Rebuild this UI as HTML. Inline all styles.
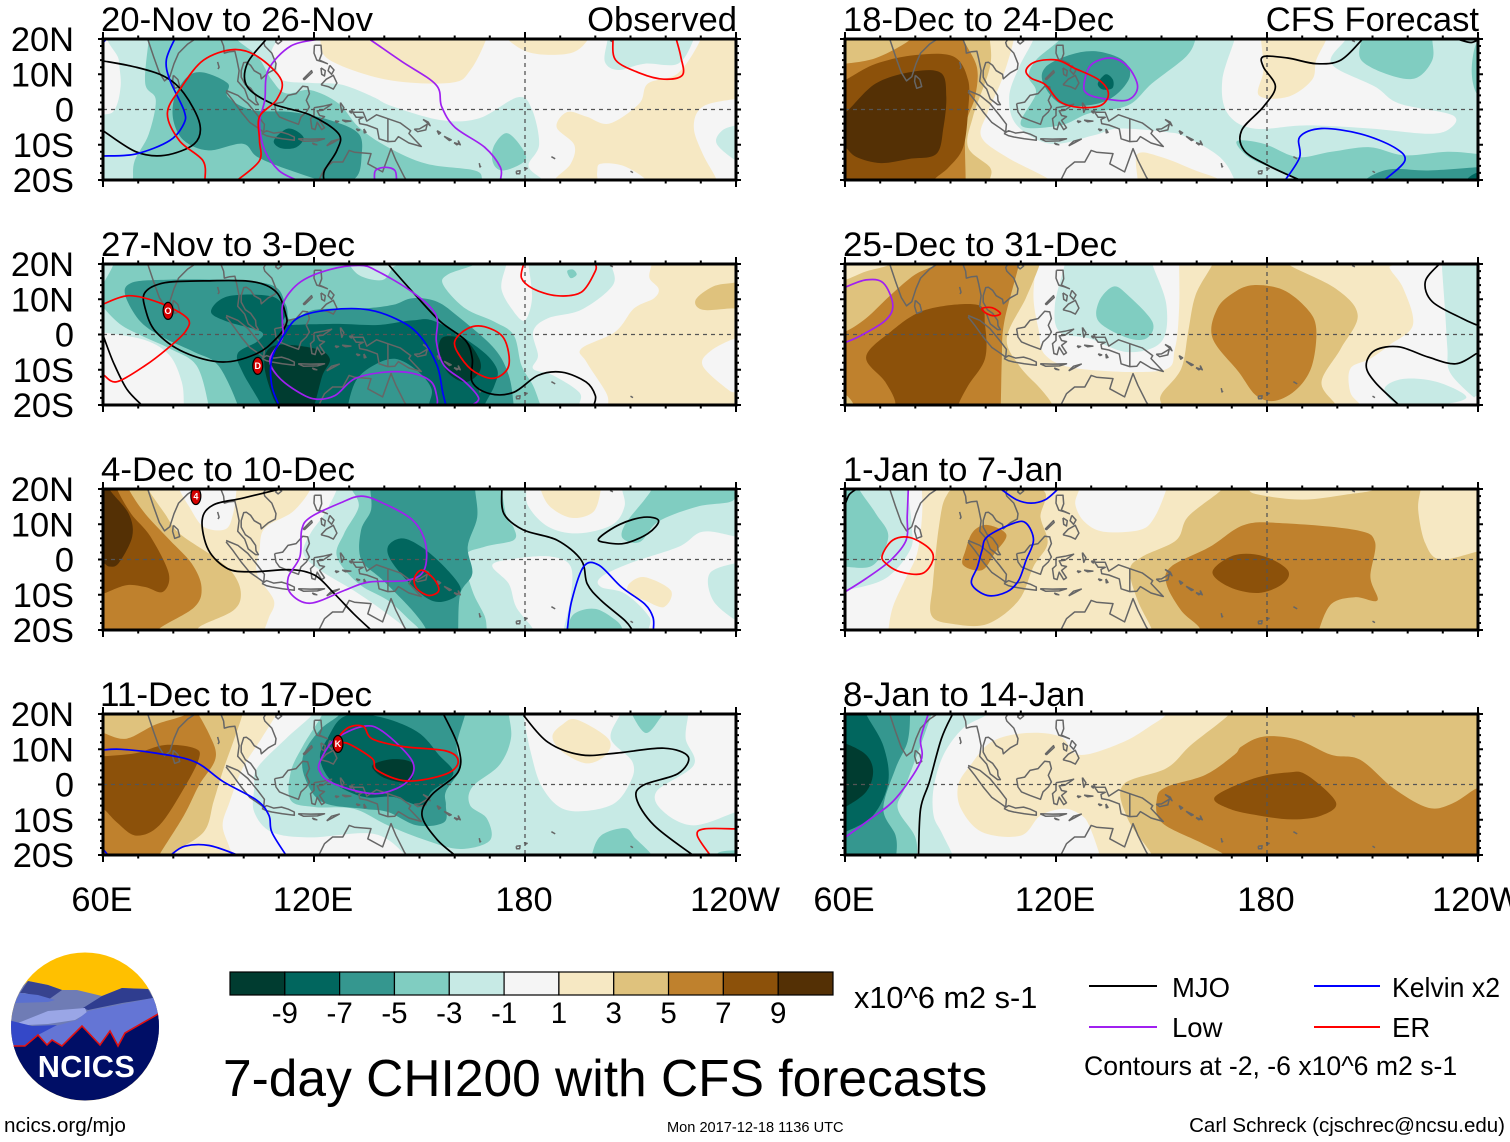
<!DOCTYPE html>
<html lang="en">
<head>
<meta charset="utf-8">
<title>7-day CHI200 with CFS forecasts</title>
<style>
html,body{margin:0;padding:0;background:#fff;}
svg{display:block;font-family:"Liberation Sans",Arial,sans-serif;}
</style>
</head>
<body>
<svg id="chart" xmlns="http://www.w3.org/2000/svg" width="1510" height="1142" viewBox="0 0 1510 1142">
<rect x="0" y="0" width="1510" height="1142" fill="#fff"/>
<g id="panels"></g>

<g fill="#000" font-size="34.6">
<text x="101" y="31" textLength="272" lengthAdjust="spacingAndGlyphs">20-Nov to 26-Nov</text>
<text x="737" y="31" text-anchor="end">Observed</text>
<text x="101" y="256" textLength="254" lengthAdjust="spacingAndGlyphs">27-Nov to 3-Dec</text>
<text x="101" y="481" textLength="254" lengthAdjust="spacingAndGlyphs">4-Dec to 10-Dec</text>
<text x="100" y="706" textLength="272" lengthAdjust="spacingAndGlyphs">11-Dec to 17-Dec</text>
<text x="843" y="31" textLength="271" lengthAdjust="spacingAndGlyphs">18-Dec to 24-Dec</text>
<text x="1479" y="31" text-anchor="end">CFS Forecast</text>
<text x="843" y="256" textLength="274" lengthAdjust="spacingAndGlyphs">25-Dec to 31-Dec</text>
<text x="843" y="481" textLength="220" lengthAdjust="spacingAndGlyphs">1-Jan to 7-Jan</text>
<text x="843" y="706" textLength="242" lengthAdjust="spacingAndGlyphs">8-Jan to 14-Jan</text>
</g>

<g id="axis-labels"></g>
<g id="colorbar"></g>

<text x="854" y="1008" font-size="30.7">x10^6 m2 s-1</text>
<text x="223" y="1096" font-size="51.5">7-day CHI200 with CFS forecasts</text>

<g font-size="27.5">
<line x1="1089" x2="1157" y1="986" y2="986" stroke="#000" stroke-width="2"/>
<text x="1172" y="997">MJO</text>
<line x1="1089" x2="1157" y1="1027" y2="1027" stroke="#a020f0" stroke-width="2"/>
<text x="1172" y="1037">Low</text>
<line x1="1314" x2="1380" y1="986" y2="986" stroke="#0000ff" stroke-width="2"/>
<text x="1392" y="997" textLength="108" lengthAdjust="spacingAndGlyphs">Kelvin x2</text>
<line x1="1314" x2="1380" y1="1027" y2="1027" stroke="#ff0000" stroke-width="2"/>
<text x="1392" y="1037">ER</text>
<text x="1084" y="1075" font-size="26.6">Contours at -2, -6 x10^6 m2 s-1</text>
</g>

<text x="4" y="1132" font-size="20.7">ncics.org/mjo</text>
<text x="667" y="1132" font-size="14.6">Mon 2017-12-18 1136 UTC</text>
<text x="1505" y="1132" font-size="20.5" text-anchor="end">Carl Schreck (cjschrec@ncsu.edu)</text>

<g>
<defs><clipPath id="logo-clip"><circle cx="85" cy="1026.5" r="74"/></clipPath></defs>
<g clip-path="url(#logo-clip)">
<rect x="8" y="950" width="155" height="155" fill="#ffc000"/>
<path d="M8 1000 L28 981 L48 985 L62 990 L77 990 L102 996 L122 988 L148 989 L165 1000 L165 1060 L8 1060Z" fill="#6f7cb5"/>
<path d="M28 981 L48 985 L62 990 L48 1000 L25 993 L20 993Z" fill="#37438f"/>
<path d="M20 993 L38 995 L55 1000 L48 1002 L15 1003Z" fill="#5a70d0"/>
<path d="M83 1008 L102 996 L122 988 L148 989 L153 998 L122 1003 L88 1010Z" fill="#2f3d8f"/>
<path d="M18 1023 L48 1011 L85 1008 L87 1013 L75 1020 L48 1024 L28 1025Z" fill="#9aa6e6"/>
<path d="M15 1047 L38 1031 L77 1020 L88 1011 L153 998 L165 1010 L165 1060 L15 1060Z" fill="#6475d5"/>
<path d="M8 1020 L32 1026 L57 1025 L38 1035 L25 1045 L8 1048Z" fill="#3448c8"/>
<path d="M8 1046 L25 1046 L38 1035 L47 1045 L52 1040 L62 1046 L82 1026 L100 1045 L110 1031 L118 1046 L125 1033 L160 1013 L165 1010 L165 1105 L8 1105Z" fill="#000e66"/>
<path d="M13 1046 L25 1046 L38 1035 L47 1045 L52 1040 L62 1046 L82 1026 L100 1045 L110 1031 L118 1046 L125 1033 L160 1013" fill="none" stroke="#e01010" stroke-width="1.6"/>
</g>
<text x="86.5" y="1077" font-size="30.7" font-weight="bold" fill="#fff" text-anchor="middle" letter-spacing="0.4">NCICS</text>
</g>
</svg>

<script>
/* ---------- categories and tick labels ---------- */
const lonTicks = [60, 120, 180, 240];
const lonTickLabels = ['60E', '120E', '180', '120W'];
const latTicks = [20, 10, 0, -10, -20];
const latTickLabels = ['20N', '10N', '0', '10S', '20S'];
const colorLevels = [-9, -7, -5, -3, -1, 1, 3, 5, 7, 9];
const colorLevelLabels = ['-9', '-7', '-5', '-3', '-1', '1', '3', '5', '7', '9'];

/* coastlines, lon,lat pairs */
const coastlines = [
[72.7,20,74.4,15,76,10.5,77.5,8.1,79,9.3,80.2,13,81.5,16,84,18.5,87,20.5],
[80,9.7,81.3,8.5,81.8,6.5,80.4,6,79.8,8,80,9.7],
[93.5,20,94.3,18,94.5,16,96,16.4,97.5,16.5,98,14.5,98.7,11,98.3,8,100.3,5.8,101.3,3,103.4,1.4,104.2,1.4,103.5,2.5,103.4,4,102,6,100.5,7,99.3,9.2,99.3,11,100,13.3,100.8,13.4,102,12.5,103,11,104.8,10,105,8.7,107,10.4,109,11.5,109.2,13,108,16,106,18,105.7,19,107,21],
[95,5.4,98.4,4,101.2,1.7,104,-1.7,105.9,-4.2,105.7,-6.4,104,-5.2,101.7,-3.6,99.3,-0.7,96.9,2.6,95,5],
[105.2,-6.8,106.5,-6,108.5,-6.7,110.8,-6.4,112.7,-7,114.4,-7.8,114.4,-8.7,111,-8.3,108,-7.8,106.4,-7.4,105.2,-6.8],
[108.8,1.65,111.1,2.1,112.6,4,114.9,4.5,116.8,6.6,118.2,6.4,118.7,4.5,117.8,2.6,118.7,0.7,117.8,-0.7,116.3,-2.1,115.6,-4.2,112.6,-3.1,110.2,-2.1,109.2,-0.7,108.8,1.65],
[120,0.5,122.5,0.9,125,1.5,122.5,-0.2,120.9,-0.4,121.6,-1.7,123,-2,121.6,-3.1,123,-5.2,122.2,-5.7,120.9,-3.6,120.3,-5.7,119.4,-5.4,119,-2.6,120,-1.7,120,0.5],
[120.1,18.2,122,18.2,122.2,15.8,121.5,14,123.8,13,122.5,13.5,120.8,14,120,16,120.1,18.2],
[122,7,123.5,8.6,125.5,9.7,126.5,7.5,125.5,5.8,124,6.5,122,7],
[124.5,12.5,125.7,11.2,125,10,124,11,124.5,12.5],
[122,11.8,123.2,11,123,9.5,122.2,10,122,11.8],
[117.2,8.4,119.5,10.5,119.3,11,117,8.7,117.2,8.4],
[131,-0.8,134,-0.8,135,-3.3,137.8,-1.5,141,-2.6,144.5,-3.8,147.5,-6,147,-6.8,150.5,-10.5,147,-9.5,144,-7.7,143,-9,141,-9.1,138.5,-8.3,138,-5.5,135,-4.4,133,-4,132.8,-2.8,134,-2.2,132,-2.2,131,-0.8],
[141,-2.6,141,-9.1],
[120,-21,121.6,-19.6,123,-16.8,125.3,-14.9,128.2,-14.9,130,-11.6,131.5,-12.1,136.2,-12.5,135.3,-15.4,139.5,-17.7,141.9,-11.1,143.3,-14.4,145.7,-19.2,147,-21],
[148.5,-5.6,150,-5.5,152.2,-4.2,151.8,-5.8,149.5,-6.3,148.5,-5.6],
[151,-2.8,152.5,-3.6,153,-4.6,152,-3.6,151,-2.8],
[155,-6,156,-6.6,155.5,-7,155,-6],
[157,-7.6,159,-8.6,158.5,-8.8,157,-7.6],
[159.8,-9.4,161,-9.8,160.6,-10,159.8,-9.4],
[161,-8.8,161.6,-10,161.2,-9.8,161,-8.8],
[123.6,-10.3,125,-9,127.2,-8.4,125,-9.6,123.6,-10.3],
[115.5,-8.3,119,-8.4,123,-8.3,121,-8.9,117,-9,115.5,-8.3],
[119.5,-9.5,120.8,-10,120,-9.9,119.5,-9.5],
[127.5,2,128.5,0.5,127.9,-0.8,127.6,1,127.5,2],
[128,-3,130.5,-3.3,129,-3.5,128,-3],
[126,-3.2,127,-3.4,126.4,-3.7,126,-3.2],
[132,-5.5,133,-5.8,132.5,-6,132,-5.5],
[134.2,-5.5,134.8,-6.5,134.3,-6.6,134.2,-5.5],
[130,-0.5,131,-0.4,130.6,-1,130,-0.5],
[92.6,13.5,93,12,92.7,11.5],
[177.5,-17.5,178.6,-17.4,178.5,-18.2,177.6,-18.2,177.5,-17.5],
[179.7,-16.5,180.6,-16.7,180,-17],
[167,-15.2,167.2,-16.3,167.5,-16],
[187.5,-13.4,188.6,-14],
[210,-17.5,210.7,-17.9],
[204.2,19.6,205,19.2],
[109,19.3,110,20,110.8,19.4,109.8,18.6,109,19.3]
];

/* ---------- filled bands: [band index, lon,lat ring], painted in order ---------- */
const fieldObserved1 = [
[4,[57,-4,63,-0.5,65,6.5,64.5,14,64,23,106,23,108,16,110,10,112,8,120,7.5,128,7,137,3.5,142,1,156,-3,167,-2.5,178,3.5,182,0,184,-10,181,-16,185,-20,186,-23,57,-23]],
[3,[73,20,72,7.4,75,2.7,73,-7,69,-14.5,68.5,-20,68,-23,170,-23,168,-20,165.7,-17.3,152,-15.4,141,-10.7,132.7,-5,127,1.7,119,5.5,112,4.6,108,8.4,104,15,98,20,98,23,73,23]],
[3,[174.7,-6.7,179,-10.7,180,-14.5,174,-17.3,171,-15.4,171,-10.7]],
[4,[203.5,23,203.5,20,202.7,13.6,206.5,11.2,214,13,223.5,13,228,20,228,23]],
[6,[121.7,23,121.7,20,124.5,14,141,8.4,159,7.6,164.5,11.2,169,20,169,23]],
[6,[175,23,175,20,182,16,193,16,198,20,198,23]],
[6,[243,23,229,23,230,20,223.5,10.3,215,7.4,212.5,1.7,204,-4,197.5,-2,192,-0.7,189,-5,194,-10,193,-15.4,188.5,-20,190,-23,200,-23,200.5,-18,201.5,-15.4,208,-16,214.5,-20,215,-23,234,-23,234.5,-20,230.5,-12.5,228,-5,230.5,0.8,240,3,243,3]],
[4,[240,-4.5,236,-6,234.5,-9.7,240,-14.5,243,-15,243,-4]],
[2,[88.6,10.5,95.5,7.4,95.5,3.6,102.4,-0.2,113.4,-0.7,124.5,-3,132.7,-6.9,133.5,-13.5,132,-19.2,126,-21,113.4,-17.3,104,-13.5,99.7,-9.7,90,-11.6,83,-8.8,80,-3,80.4,3.6,84,9.3]],
[1,[112.7,-5.4,117,-7.8,115,-10.7,110.7,-11,108.6,-8.8]]
];
const fieldObserved2 = [
[4,[57,23,204.5,23,204.5,20,205,14,196,7,186.5,4.6,182.3,0.8,183.7,-6,182.3,-9.7,188,-11.6,195.4,-16.4,195.4,-20,195.4,-23,83,-23,83,-20,82.4,-13.5,79,-6,72,-1.6,60,0.6,57,0.8]],
[5,[174.7,23,174.7,20,173.3,13,176.8,6.5,180,4,182,10.3,181,20,181,23]],
[3,[63,20,60.4,15,58,11,64,3.6,70.7,-0.2,79,-4,86.6,-8.8,90,-20,90,-23,186,-23,184.4,-20,182.3,-14.5,179,-8.8,176.8,-0.2,171.3,3.6,163,7.4,156.8,14,158,17,165.8,20,166,23,63,23]],
[4,[130,23,130,20,133.4,16.5,139.6,15.5,142.3,18.9,143.7,20,144,23]],
[3,[192,18,193.7,18.4,194.7,17,193,16]],
[6,[216,23,216,20,215.4,16,218,13,216.7,10.3,211,7.4,205.7,0.8,196,-4,197.5,-7.8,203,-16.4,203.7,-20,204,-23,243,-23,243,23]],
[5,[240,-1,233,-4.5,230.5,-8.8,237.4,-15.4,240,-16.4,243,-16,243,-1]],
[7,[239,14.6,233.4,13.6,228.5,9.8,230.5,7,239,7.4,243,7,243,15]],
[2,[98.3,-20,92.8,-8.8,86,-5,77.6,-1.1,70.7,3.6,66.3,11.2,68,14.6,76.3,15.5,92.8,15.5,108,14,112,8.4,113.4,4,120.3,7,134,7.4,142.4,8.4,148,10.3,155,9.3,161.6,4.6,171.3,-4,175.4,-11.6,176.8,-20,177,-23,98,-23]],
[1,[90.7,6.5,95.5,10.8,108,10.8,112,6.5,111.4,3,119,2.9,127.2,3,138.2,2.7,148,4,154.7,3.6,167,-4,172,-9.7,171.3,-14.5,168.5,-20,168,-23,105,-23,105,-20,99.7,-10.7,98.3,-5.4,103.8,-2,105,0.8,95.5,3.6]],
[2,[129.7,-20,132,-13,136.9,-8.8,143,-6.9,149.3,-10.2,153.4,-15.4,152.7,-20,153,-23,130,-23]],
[0,[109.3,-3,120.3,-4,124.5,-6.9,122.4,-11.6,120.3,-19.2,119,-21,110.7,-21,107.2,-14.5,105.9,-6.9]],
[0,[156.8,-0.7,163,-1.6,167,-6.9,167,-10.7,163,-13.5,158,-10.7,155.5,-5]]
];
const fieldObserved3 = [
[6,[57,23,118,23,119,20,114,13.6,106,8.9,104.5,2.7,103.8,-4,108.6,-11.6,107.2,-16.4,105.9,-20,105,-23,57,-23]],
[5,[81.7,23,81.7,20,84.5,15,88.6,9.3,94.8,8.6,97,13,98,20,98,23]],
[7,[57,23,72,23,72.8,20,77.6,13,81.7,7.4,91.4,0.8,97,-4,99.2,-9.7,97,-14.5,87.3,-19.2,86,-23,57,-23]],
[8,[57,23,67,23,67.3,20,72,13,79,5.5,85.2,-1.1,88,-7.8,86,-13.5,76,-19.6,74,-23,57,-23]],
[9,[57,23,64,23,64,20,68,13,73.5,6.5,78.7,-4,77,-9.2,72,-7.8,66.6,-7.3,60,-9.7,57,-10]],
[10,[57,23,62,23,61.8,20,67.3,13,68.3,6.5,64.5,-1,61.8,-2,60,-1,57,-1]],
[4,[126,23,126.5,20,123,13,119,7.4,117,1.7,121.7,-3,131.3,-8.8,139.6,-14.5,146,-19.6,147,-23,243,-23,243,23]],
[5,[180.3,23,180.3,20,181,15,186.6,9.3,195,7.4,204.7,9.8,208.3,15,207.6,20,207.6,23]],
[5,[170.7,-1.6,177.7,0.3,187.5,0.8,193,-2,193,-10.7,191,-20,191,-23,181,-23,182.4,-20,177.5,-13.5,175.4,-6.9]],
[5,[201.6,-5,210,-1,223.7,3.6,230.5,7.9,240,6.5,243,6,243,-23,217,-23,215.4,-16.4,208.5,-9.7,201.6,-7.8]],
[4,[240,-1,232.5,-4,233.5,-11.6,240,-17.3,243,-18,243,-1]],
[6,[209.6,-6.9,214,-5,221.5,-8.8,219.5,-13.5,214,-11.6,209.6,-9.7]],
[6,[184.4,23,184.4,20,187.1,15,193.3,11.8,199.5,13.6,201.6,20,201.6,23]],
[3,[216,23,216,20,214,17,208.5,10,207.8,6,212.7,5,218,10.8,229,15,238.8,16.5,239.5,20,240,23]],
[3,[192,-23,192,-20,194,-15.4,200,-14,205.9,-17.3,207.8,-20,207.8,-23]],
[3,[130,23,130.7,20,132.7,15,128.6,7.4,126.5,0.8,132.7,-6.9,141,-11.6,147,-17,150,-20,150,-23,170,-23,169.2,-20,168.5,-16,165,-8.8,163,0.8,168.5,3.6,176.8,5.5,176.8,9,174.8,12,173.4,20,173.4,23]],
[2,[136,23,136,20,136.2,14,133.4,8.4,133.4,0,139.6,-5.9,148,-14.5,152,-20,152,-23,161,-23,161,-20,161.6,-9.7,165,-4,163.7,3.6,166.4,12,165.8,20,166,23]],
[1,[145,6,150.5,3.6,157,-2,161.6,-7.8,160,-10.7,154.7,-12,149.3,-8.8,142.4,-1.1,141,3.6]]
];
const fieldObserved4 = [
[6,[57,23,110,23,109.3,20,105,13,99.7,4.6,96,-5,94,-11.6,96,-18,97,-23,57,-23]],
[7,[57,23,100,23,99.7,20,97,12,94,3.6,91.4,-5,88.6,-13.5,79,-20,78,-23,57,-23]],
[8,[57,15,60,14.6,66.6,13,74.9,17,84,20,85,23,90.3,14,92,7.4,87.3,-0.2,83,-8.8,76,-20,75,-23,57,-23]],
[9,[60,8,69.4,8.9,77.6,11.2,86,10.3,87.3,7.4,83,-1.1,76,-11.6,69.4,-14.5,63.9,-10.7,60,-6.9,57,-7,57,8]],
[4,[120,23,119.7,20,112,13,103.8,4.6,103,-1.1,103,-7.8,108,-13.5,119,-15,137,-14,146,-20,147,-23,243,-23,243,23]],
[5,[180,23,179.6,20,181.6,9.3,185,-1,192,-7.3,204.4,-5.9,210,0.8,210.5,6.5,204.4,13,207,20,207,23]],
[5,[226,23,226.4,20,225.7,13,228,5.5,217.4,-2,219.5,-7.8,228,-11.6,240,-7.8,243,-7,243,23]],
[6,[190.6,17,194.7,18.4,203.7,13,203,8.4,197.5,6,190.6,9.3,187.8,13.6]],
[3,[210.4,23,210.4,20,214.4,14.6,218.5,18.9,219,20,219,23]],
[3,[199,-23,199,-20,201.6,-14.5,208.5,-12.4,211.5,-15.4,216,-20,216,-23]],
[3,[234.5,-20,236,-19,240,-18.7,243,-19,243,-23,234,-23]],
[3,[122,23,122.4,20,117,11.2,113.4,3.6,113.4,-4.5,120.3,-6.4,131.3,-6.9,141,-11.6,152,-15.9,161.6,-18.3,170,-15.9,169.2,-9.7,164.4,-5.9,165,-0.7,172.7,5.5,176,13,175.4,20,175.4,23]],
[2,[127,23,127.4,20,121.7,15.5,117,8.4,117.5,1.7,122.4,-5,134,-6.9,141,-7.8,149.3,-11.6,157,-10.7,157.5,-5.9,157.5,-2,161.6,4.6,160.6,11.2,163,20,163,23]],
[1,[128.6,19.3,123.8,13,121.7,7.4,125.2,0.8,134,-3.5,142.4,-3.5,150.5,-6,153.4,-2,159.6,3,155.5,8.4,149.3,15,138.2,19.3]],
[0,[136.9,5.7,142.4,7.2,148,6,147.2,0.8,141,1.5,137.5,3.6]]
];
const fieldForecast5 = [
[4,[113,23,113.6,20,109.5,12,106.7,3.6,108.8,-4.4,118.4,-9.7,130.8,-7.3,137.8,-5.4,151.5,-6.4,157,-7.8,166.6,-13.5,170.8,-20,171,-23,243,-23,243,23]],
[5,[170.8,23,170.8,20,167.3,8.4,168.7,-1,176.2,-5.4,191.3,-4.5,209.3,-5.4,225.8,-6.9,232,-5.4,232.7,-1.6,217.6,1.7,210.7,6.5,198.3,13,202.4,20,202.4,23]],
[6,[143.2,-23,143.2,-20,143.2,-12.6,150,-13.5,159.7,-17.3,166.6,-20,167,-23]],
[6,[178.3,23,178.3,20,179,11.2,177.7,4,186,3.6,192.8,8.4,194,14,196.9,20,196.9,23]],
[6,[57,23,107,23,108,20,104.6,8.4,100.5,-1,98.8,-7.8,106,-13.5,118.3,-20,119,-23,57,-23]],
[7,[57,23,101,23,101.2,20,101.2,12,96.4,-2,95,-10.7,101.2,-16.4,101.2,-20,101,-23,57,-23]],
[8,[57,13,60,13,68.8,14.6,78.5,19.8,79,23,93.6,23,93.6,20,97.5,12,97,3.6,94.3,-5,94.3,-20,94,-23,57,-23]],
[9,[57,8,60,8.4,68.8,13,80.5,15.5,90.9,15,95,8.4,95,-0.2,93.6,-10.7,89.5,-16.4,85.3,-20,85,-23,57,-23]],
[10,[57,-1,60,-1,68.8,7.4,79.8,10.8,87.4,10.3,88.8,3.6,88,-5,86,-12.6,78.5,-14,70.2,-15.2,63.3,-13.5,60,-10.7,57,-10]],
[3,[121.2,23,121.2,20,114.3,14,112.2,9.3,114.3,4.6,110.1,-4.5,121.2,-4.5,129.4,-1.1,140.5,1.2,147.3,7.4,157,15,159.7,20,160,23]],
[2,[117,12,124,15.5,131.4,16.5,139,14,141,9.3,136.3,3.6,129.4,1.2,121.2,1.7,116.4,7.4]],
[1,[131.9,7.4,134.2,10,136.2,8.4,136,6,133.2,5.7]],
[3,[206.8,23,206.8,20,206.8,14,214.8,9.8,222.3,8.9,227,14,227,20,227,23]],
[3,[239.6,18.9,238.2,11,239.6,4.6,243,4,243,19]],
[3,[171.4,-9,179,-9.7,188.6,-13.5,198.3,-12,209.3,-10.7,219,-13,231.3,-12,239.6,-12.6,243,-13,243,-23,187,-23,188.6,-20,183,-17.3,174.8,-13.5]],
[2,[207.9,-20,214.8,-17,225.8,-17.3,239.6,-16.4,243,-16,243,-23,208,-23]],
[1,[236.8,-20,239.6,-18,243,-18,243,-23,237,-23]]
];
const fieldForecast6 = [
[6,[57,23,215,23,214.8,19,218.8,13,221.5,2.7,214.8,-3,209.3,-6.9,203.7,-9.7,203.7,-16.4,206.5,-20,207,-23,57,-23]],
[5,[114.3,23,114.3,20,113.6,10.3,115,1.7,117,-5.9,126.6,-9.7,150,-10.2,153.8,-4,155,7.4,155,20,155,23]],
[4,[122.5,23,122.5,20,119.7,8.4,121,0.8,129.4,-1.1,140.4,-5,150,-2,151.4,8.4,147.4,20,147.4,23]],
[3,[136.3,13.6,140.4,11.2,147.4,3.6,145.9,-1,140.4,-1,132.2,3.6,132.2,9.3]],
[7,[73,23,115.4,23,115.4,20,111.4,10.3,106,-1,109.5,-8.8,115.6,-15.4,119,-20,119,-23,57,-23,57,15.5,60,15.5,66,17.9,73,20]],
[8,[57,1,60,0.8,66,4.6,73,11.2,79.8,16.9,86,20,86,23,109.5,23,109.5,20,105.3,3.6,104.6,-6.9,104.3,-20,104,-23,57,-23]],
[7,[60,-17,62.5,-20,62,-23,57,-23,57,-17]],
[9,[66,-6.4,73,0.8,83,7,97.7,8.4,99.8,2.7,99.8,-6.9,95,-14.5,92.2,-20,92,-23,70,-23,74.3,-20,71.5,-13.5]],
[7,[164.5,23,164.5,20,159.7,11.2,157.6,0.8,155.6,-9.7,150,-16.9,150,-20,150,-23,200,-23,199.6,-20,195.5,-13.5,201,-4,205.8,5.5,199.6,13,185.9,20,186,23]],
[8,[176.2,14,184.5,12.7,191.3,7.4,194,1.7,192.8,-8.8,188.6,-15.4,182.4,-18.8,176.9,-17.3,172,-10.7,164.5,-1,165.9,7.4,170.7,12]],
[4,[229.7,23,229.7,20,230.6,7.4,231.3,-4,232,-10.7,238.2,-17.3,239.6,-17.5,243,-18,243,23]],
[4,[213.4,-15.4,218.8,-12.6,228.5,-13.5,236.7,-17.8,228.5,-20,217.5,-20]]
];
const fieldForecast7 = [
[6,[50,30,250,30,250,-30,50,-30]],
[5,[57,23,81.9,23,81.9,20,81.9,12.2,80.5,1.7,77,-5.9,73.6,-13.5,72.3,-20,72,-23,57,-23]],
[4,[57,23,77.8,23,77.8,20,79,9.3,78.5,2.7,71.5,-5.4,60,-8.8,57,-9]],
[3,[57,23,64,23,64,20,68.8,13,72.3,6.5,68,-1.6,60,-2.1,57,-2]],
[5,[126.6,23,126.6,20,125.5,15.7,128,10.8,133.5,7.9,143.9,8.4,148,12,151.4,20,151.4,23]],
[7,[88.8,18,93.6,20,115.6,20,115.6,12,117.6,4.6,113.6,-2,109.4,-11.6,100.5,-18.3,90.8,-18.3,84.6,-15.9,85,-6.9,86.7,9.3]],
[8,[96.4,7.9,100.5,9.8,105.9,7,102.5,1.7,99,-3,93.6,-1.6,94.3,2.7]],
[7,[167,23,167.3,20,157.6,12.2,154.2,5.5,144.5,0.8,141,-3,143.2,-11.6,147.3,-20,147,-23,243,-23,243,3,239.6,2.2,229.2,0,225,4.6,223,14,223.7,20,224,23,205,23,210.7,20,202.4,18.4,190,17,177.6,18.4,174.8,20,175,23]],
[8,[152.8,-2,163.8,3.6,173.5,9.8,184.5,10.3,205,8.4,210.7,5,209.4,-5,211.4,-11.6,205,-10.7,198.3,-12.6,194.8,-20,195,-23,155,-23,161,-20,155.6,-14.5,151.4,-6.9]],
[9,[164.5,-3.5,170.7,1.2,179,0.95,185.9,-3,184.5,-6.9,177.6,-9.5,169.3,-7.8]]
];
const fieldForecast8 = [
[6,[151,23,151.4,20,147.3,16.9,139,12,126.7,8.4,121.2,13.6,111.5,14.6,101.8,12.2,95.7,5.5,92.2,-0.2,93,-6.9,99,-13.5,110,-14.5,115.6,-8.8,122.5,-6.9,127.3,-8.8,129.4,-11.6,132.2,-19.2,133,-23,243,-23,243,23]],
[7,[169,23,169.3,20,158.4,11.2,151.4,4.6,139,-0.2,140.4,-9.7,147.3,-20,147,-23,243,-23,243,23]],
[8,[172.8,10.8,179,13.6,188.6,12.7,198.3,8.4,206.5,7,216,-1.1,225.8,-6.6,232.7,-5.4,239.6,-1.1,243,-1,243,-23,168,-23,167.9,-20,161,-16.4,150,-10.7,148.7,-4,151.4,-0.7,162.4,2.7,170.7,8.4]],
[9,[165.2,-3.5,176.2,1.7,185.9,3.4,191.3,2.7,199.6,-5,195.5,-8.8,187.3,-9.9,177.6,-8.8,169.3,-6.9]],
[4,[100,23,100.5,20,93.6,16,88,8.4,85.2,-1,85.2,-8.8,87.4,-13.5,90.6,-20,91,-23,57,-23,57,23]],
[3,[85,23,84.6,20,81.2,10.3,77,-1,75,-6.9,79.8,-14.5,80.5,-20,80,-23,57,-23,57,23]],
[2,[78,23,78.5,20,77.8,12.2,74.4,4.6,70.9,-6.9,74.4,-14.5,74.6,-20,74,-23,57,-23,57,23]],
[1,[66,23,66,20,70.9,11,72.3,0.8,68,-8.8,60,-13.5,57,-14,57,23]],
[0,[60,11.7,66,8.4,68,3.6,66,-2.1,60,-6.4,57,-7,57,12]]
];

/* ---------- contour series: [series, closed flag, lon,lat list] ---------- */
const contoursObserved1 = [
['mjo',0,[60,13.8,69.4,12,77.6,9.3,83,4.6,87.5,-4,86,-9.7,77.6,-13,69.4,-12,60,-6]],
['mjo',0,[106.5,20,101,13,101,6.5,108,1.7,119,-1.6,127,-6.9,126.5,-11.6,123,-17.3,122.8,-20]],
['low',0,[121.7,20,113.4,18,107,11.2,106,2.7,104.5,-4,106,-11.6,110,-17.3,115,-20]],
['low',0,[135.7,20,145,13.6,154.7,7,156.3,0.8,160,-5,168.5,-10.7,173,-16.4,173,-20]],
['low',0,[137.2,-20,137.5,-17.3,140.4,-16.4,143,-17.3,143.5,-20]],
['kelvin',0,[80.4,20,78,14,79,8.4,83,-0.2,83,-4,79,-8.8,69.4,-12.6,60,-13.2]],
['kelvin',0,[60,19,61,20]],
['er',0,[89,-20,88.4,-14.5,81.7,-8.8,78.3,-1,82.4,6.5,88.6,14,97,17,104,15,110.7,8.4,109.3,2.7,104.5,-2,104.5,-8.8,104.5,-14.5,98.3,-20]],
['er',0,[205,20,205.8,14,212.7,10.3,219.5,8.6,224.8,9.8,224.3,15,223,20]]
];
const contoursObserved2 = [
['mjo',1,[72,12,77.6,14.7,88.6,15.2,102.4,15,109.3,12,112,5.5,112,2.7,109.3,-1.1,103.8,-5.4,94,-7.8,83,-5,75,0.8,72,7.4]],
['mjo',0,[60,-0.2,63,-8,66.7,-15.4,71,-20]],
['mjo',0,[141,20,149,11,156,3.6,163,-1.6,165,-6.9,165,-13.5,170,-16.8,176.8,-16.4,183.7,-11.6,190.5,-10.7,197.4,-13.5,200,-17.3,199.6,-20]],
['low',0,[165,-20,166.8,-18,163,-13.5,157,-8.8,154.8,-2,154.7,5.5,148,12,138,18,133,19.6,124.5,18.4,116.3,15,111.4,9.3,111,3.6,111,-1,107.5,-6.9,109.5,-11.6,115,-16,120.3,-18.3,126,-17.3,131.5,-12.6,140,-10.7,148,-11,153.4,-13.5,155,-18,155,-20]],
['kelvin',0,[110,-20,108,-14.5,108,-7,112,0.8,116,5,124.5,7,135.5,7,145,3.6,150.6,-1,155,-8.8,156.6,-16.4,157.5,-20]],
['er',0,[60,8.6,67.3,11,76.3,8.9,84,4.6,83.4,0.8,78.3,-4,72,-8.8,64,-13.4,60.3,-11.6]],
['er',0,[179.6,20,179,16,182.3,13,189,11,196,12,200,18,200,20]],
['er',1,[160,-2,163.7,1.7,168.5,2.2,174,-1.1,175.4,-8.8,171.3,-12.4,165.8,-10.7,161.7,-6.4]]
];
const contoursObserved3 = [
['mjo',0,[110.4,20,99.7,17.4,91.4,15.5,88.2,11.2,90,2.7,95.5,-2.6,102.4,-3.5,113.4,-2.9,120.3,-4.5,125.8,-9.7,131.3,-15.4,136.2,-20]],
['mjo',0,[173.4,20,174,13,179.5,8.4,189.1,5.5,196,-0.2,197.7,-6.9,201.6,-11.6,208.4,-17.3,210.5,-20]],
['mjo',1,[201,6,207,10,213.8,12,218,11,215,7.4,208.4,4.6,203,4.8]],
['low',1,[119,12,127.4,16,133.4,18,139.6,16,148,11.2,151.7,4.6,151.3,-3,146.5,-5.9,135.5,-6.4,128.6,-8.8,119,-12.4,113.4,-9.7,112.7,-5,116,0.8,116.5,8.4]],
['kelvin',0,[192,-20,193.3,-11.6,196.7,-2,201,-1.6,207.4,-7.8,214,-12.6,216.4,-16.4,216.5,-20]],
['er',1,[150.6,-3,154,-5.4,155.5,-8.8,152.7,-10.2,149.3,-8.3,148.5,-5.4]]
];
const contoursObserved4 = [
['mjo',0,[156.8,20,161,10.8,161,3.6,153.4,-3,150.7,-8.8,154.8,-15.4,160,-20]],
['mjo',0,[179.6,19.6,186.5,12,196,8.4,205.9,8.9,219.5,10.3,226.4,7.9,223.5,3.1,213.6,-0.2,211.7,-4,216.7,-11.6,227.7,-20]],
['low',1,[121.7,6.5,125.8,12.7,134,16.5,139.6,15,148,6.5,146.5,0.8,139.6,-2.4,132.7,-2,124.5,0.8,121.7,3.6]],
['kelvin',0,[60,9.8,65.2,10,75,8.9,86,6.5,94.2,0.8,103.8,-4.5,107.2,-8.8,108,-13.5,112,-20]],
['kelvin',0,[79.3,-20,83.3,-17.5,90.2,-17.3,98.3,-20]],
['kelvin',0,[60,-18.3,61.4,-20]],
['er',1,[126,11.7,129.5,16,134,16.5,136.5,13,145,10.8,157.6,9.5,161,6.5,157.6,3,146.5,1,138,4,136.5,7.4,129.5,11.7]],
['er',0,[232.6,-20,229,-14.5,231,-12.6,240,-12.6]]
];
const contoursForecast5 = [
['mjo',0,[207.2,20,201,14,194,13,185.9,14.6,179,15,179,12,182.4,6.5,179,0.8,172.8,-5.9,173.5,-11.6,180.3,-15.9,189.3,-20]],
['mjo',0,[234.7,19.8,238,19,240,19.8]],
['low',1,[128,7.4,130,12.7,135.6,14.6,140.4,12.2,143.2,6.5,140.4,2.7,133.5,3.1,128.7,4.6]],
['er',1,[111.5,11.2,114.3,13.6,120.4,14,125.3,11.7,132.2,8.4,134.9,4.6,132.8,1.2,126.6,0.6,121.1,2.2,117,7,112.9,8.9]],
['kelvin',0,[185.2,-20,189.3,-13.5,189.3,-7.8,195.5,-5.4,206.5,-6.9,216.1,-10.7,219.2,-14.5,213.4,-20]]
];
const contoursForecast6 = [
['low',0,[60,13.4,66,15.5,70.9,14.6,73.6,8.4,71.5,4,64.7,-0.2,60,-2.3]],
['er',1,[99,7.4,101.8,7.6,104.2,6,102.5,5.3,100.2,6]],
['mjo',0,[229,20,225,15,227,9.3,235.4,4.6,239.6,2.7]],
['mjo',0,[217.5,-20,210.7,-13.5,208.2,-8.8,210.7,-4.5,217.5,-3.5,225.8,-6.4,233.6,-8.3,239.6,-5.4]]
];
const contoursForecast7 = [
['mjo',0,[60,15.5,61.2,18.4,63.3,20]],
['low',0,[78,20,77.7,12.2,77.4,5.5,73,-0.2,66,-5.4,60,-9.2]],
['er',1,[70.6,1.2,73.6,5.5,78.5,6.2,84,3.1,85,-0.2,81.9,-4,75.7,-3.5,71.6,-1.1]],
['kelvin',0,[104.3,20,108.7,17,112.9,16,117,17,120.4,19.8]],
['kelvin',1,[99,2.7,100.5,6.5,108,10.3,111.5,10.3,113.6,5.5,111.5,-0.2,109.4,-5.9,106,-9.2,100.5,-10.2,96,-6.9,97.7,-2]]
];
const contoursForecast8 = [
['mjo',0,[90.6,20,87.4,13,84,0.8,81.5,-6.9,80.9,-20]],
['low',0,[83.7,20,81.5,13,81.5,6.5,74.4,-4,67.3,-9.7,60,-15]]
];

/* ---------- tropical cyclone markers: lon, lat, label ---------- */
const cyclones2 = [[78.5,6.7,'O'],[104,-8.9,'D']];
const cyclones3 = [[86.4,18,'4']];
const cyclones4 = [[126.8,11.5,'K']];

/* ---------- panels ---------- */
const panelFields = [fieldObserved1,fieldObserved2,fieldObserved3,fieldObserved4,fieldForecast5,fieldForecast6,fieldForecast7,fieldForecast8];
const panelContours = [contoursObserved1,contoursObserved2,contoursObserved3,contoursObserved4,contoursForecast5,contoursForecast6,contoursForecast7,contoursForecast8];
const panelCyclones = [[],cyclones2,cyclones3,cyclones4,[],[],[],[]];

/* ---------- style tables and layout ---------- */
const bandPalette = ['#003c30','#01665e','#35978f','#80cdc1','#c7eae5','#f5f5f5','#f6e8c3','#dfc27d','#bf812d','#8c510a','#543005'];
const seriesPalette = {mjo:'#000000',low:'#a020f0',kelvin:'#0000ff',er:'#ff0000'};
const NS = 'http://www.w3.org/2000/svg';
const LON_MIN = 60, LON_MAX = 240, LAT_MAX = 20, LAT_MIN = -20;
const PANEL_W = 633, PANEL_H = 141;
const columnLeft = [103, 845];
const rowTop = [39, 264, 489, 714];

function xScale(lon, x0){ return x0 + (lon - LON_MIN) / (LON_MAX - LON_MIN) * PANEL_W; }
function yScale(lat, y0){ return y0 + (LAT_MAX - lat) / (LAT_MAX - LAT_MIN) * PANEL_H; }

function toPoints(flat, x0, y0){
  const pts = [];
  for (let i = 0; i < flat.length; i += 2) pts.push([xScale(flat[i], x0), yScale(flat[i+1], y0)]);
  return pts;
}
function smoothPath(pts, closed){
  const n = pts.length;
  const get = i => closed ? pts[(i + n) % n] : pts[Math.max(0, Math.min(n - 1, i))];
  let d = 'M' + pts[0][0].toFixed(1) + ' ' + pts[0][1].toFixed(1);
  const last = closed ? n : n - 1;
  for (let i = 0; i < last; i++){
    const p0 = get(i-1), p1 = get(i), p2 = get(i+1), p3 = get(i+2);
    const c1x = p1[0] + (p2[0]-p0[0]) / 6, c1y = p1[1] + (p2[1]-p0[1]) / 6;
    const c2x = p2[0] - (p3[0]-p1[0]) / 6, c2y = p2[1] - (p3[1]-p1[1]) / 6;
    d += 'C' + c1x.toFixed(1) + ' ' + c1y.toFixed(1) + ' ' + c2x.toFixed(1) + ' ' + c2y.toFixed(1) + ' ' + p2[0].toFixed(1) + ' ' + p2[1].toFixed(1);
  }
  return d + (closed ? 'Z' : '');
}
function linePath(pts){
  return 'M' + pts.map(p => p[0].toFixed(1) + ' ' + p[1].toFixed(1)).join('L');
}

const panelsRoot = document.getElementById('panels');
const defs = document.createElementNS(NS, 'defs');
panelsRoot.appendChild(defs);

panelFields.forEach((field, idx) => {
  const x0 = columnLeft[idx < 4 ? 0 : 1];
  const y0 = rowTop[idx % 4];

  const clip = document.createElementNS(NS, 'clipPath');
  clip.setAttribute('id', 'panel-clip-' + idx);
  const clipRect = document.createElementNS(NS, 'rect');
  clipRect.setAttribute('x', x0);
  clipRect.setAttribute('y', y0);
  clipRect.setAttribute('width', PANEL_W);
  clipRect.setAttribute('height', PANEL_H);
  clip.appendChild(clipRect);
  defs.appendChild(clip);

  const panel = document.createElementNS(NS, 'g');
  
  
  panelsRoot.appendChild(panel);

  const inner = document.createElementNS(NS, 'g');
  
  
  inner.setAttribute('clip-path', 'url(#panel-clip-' + idx + ')');
  panel.appendChild(inner);

  const bg = document.createElementNS(NS, 'rect');
  
  
  bg.setAttribute('x', x0);
  bg.setAttribute('y', y0);
  bg.setAttribute('width', PANEL_W);
  bg.setAttribute('height', PANEL_H);
  bg.setAttribute('fill', bandPalette[5]);
  inner.appendChild(bg);

  field.forEach(item => {
    const ring = document.createElementNS(NS, 'path');
    
    
    ring.setAttribute('d', smoothPath(toPoints(item[1], x0, y0), true));
    ring.setAttribute('fill', bandPalette[item[0]]);
    inner.appendChild(ring);
  });

  coastlines.forEach(line => {
    const coast = document.createElementNS(NS, 'path');
    
    
    coast.setAttribute('d', linePath(toPoints(line, x0, y0)));
    coast.setAttribute('fill', 'none');
    coast.setAttribute('stroke', '#666');
    coast.setAttribute('stroke-width', '1.5');
    coast.setAttribute('stroke-linejoin', 'round');
    inner.appendChild(coast);
  });

  const eq = document.createElementNS(NS, 'line');
  
  
  eq.setAttribute('x1', x0);
  eq.setAttribute('x2', x0 + PANEL_W);
  eq.setAttribute('y1', yScale(0, y0));
  eq.setAttribute('y2', yScale(0, y0));
  eq.setAttribute('stroke', '#555');
  eq.setAttribute('stroke-width', '1.3');
  eq.setAttribute('stroke-dasharray', '4 4');
  inner.appendChild(eq);

  const dateline = document.createElementNS(NS, 'line');
  
  
  dateline.setAttribute('x1', xScale(180, x0));
  dateline.setAttribute('x2', xScale(180, x0));
  dateline.setAttribute('y1', y0);
  dateline.setAttribute('y2', y0 + PANEL_H);
  dateline.setAttribute('stroke', '#555');
  dateline.setAttribute('stroke-width', '1.3');
  dateline.setAttribute('stroke-dasharray', '4 4');
  inner.appendChild(dateline);

  panelContours[idx].forEach(item => {
    const contour = document.createElementNS(NS, 'path');
    
    
    contour.setAttribute('d', smoothPath(toPoints(item[2], x0, y0), item[1] === 1));
    contour.setAttribute('fill', 'none');
    contour.setAttribute('stroke', seriesPalette[item[0]]);
    contour.setAttribute('stroke-width', '1.7');
    inner.appendChild(contour);
  });

  panelCyclones[idx].forEach(item => {
    const cx = xScale(item[0], x0), cy = yScale(item[1], y0);
    const mark = document.createElementNS(NS, 'ellipse');
    
    
    mark.setAttribute('cx', cx);
    mark.setAttribute('cy', cy);
    mark.setAttribute('rx', 5);
    mark.setAttribute('ry', 8.5);
    mark.setAttribute('fill', '#d40000');
    mark.setAttribute('stroke', '#000');
    mark.setAttribute('stroke-width', '1.2');
    inner.appendChild(mark);
    const label = document.createElementNS(NS, 'text');
    
    
    label.setAttribute('x', cx);
    label.setAttribute('y', cy + 3.2);
    label.setAttribute('font-size', '9');
    label.setAttribute('font-weight', 'bold');
    label.setAttribute('fill', '#fff');
    label.setAttribute('text-anchor', 'middle');
    label.textContent = item[2];
    inner.appendChild(label);
  });

  const frame = document.createElementNS(NS, 'rect');
  
  
  frame.setAttribute('x', x0);
  frame.setAttribute('y', y0);
  frame.setAttribute('width', PANEL_W);
  frame.setAttribute('height', PANEL_H);
  frame.setAttribute('fill', 'none');
  frame.setAttribute('stroke', '#000');
  frame.setAttribute('stroke-width', '3');
  panel.appendChild(frame);

  let tickPath = '';
  for (let lon = LON_MIN; lon <= LON_MAX; lon += 10){
    const x = xScale(lon, x0);
    const major = lonTicks.includes(lon);
    const len = major ? 7 : 3.5;
    tickPath += 'M' + x.toFixed(1) + ' ' + (y0 - len) + 'V' + y0;
    tickPath += 'M' + x.toFixed(1) + ' ' + (y0 + PANEL_H) + 'V' + (y0 + PANEL_H + len);
  }
  for (let lat = LAT_MIN; lat <= LAT_MAX; lat += 2){
    const y = yScale(lat, y0);
    const major = latTicks.includes(lat);
    const len = major ? 5 : 3;
    tickPath += 'M' + (x0 - len) + ' ' + y.toFixed(1) + 'H' + x0;
    tickPath += 'M' + (x0 + PANEL_W) + ' ' + y.toFixed(1) + 'H' + (x0 + PANEL_W + len);
  }
  const ticks = document.createElementNS(NS, 'path');
  
  
  ticks.setAttribute('d', tickPath);
  ticks.setAttribute('stroke', '#000');
  ticks.setAttribute('stroke-width', '2');
  ticks.setAttribute('fill', 'none');
  panel.appendChild(ticks);
});

/* axis labels */
const axisLabels = document.getElementById('axis-labels');
rowTop.forEach(y0 => {
  latTicks.forEach((lat, i) => {
    const t = document.createElementNS(NS, 'text');
    
    
    t.setAttribute('x', 74);
    t.setAttribute('y', yScale(lat, y0) + 12);
    t.setAttribute('font-size', '34.4');
    t.setAttribute('text-anchor', 'end');
    t.textContent = latTickLabels[i];
    axisLabels.appendChild(t);
  });
});
columnLeft.forEach(x0 => {
  lonTicks.forEach((lon, i) => {
    const t = document.createElementNS(NS, 'text');
    
    
    t.setAttribute('x', xScale(lon, x0) - 1);
    t.setAttribute('y', 911);
    t.setAttribute('font-size', '34.4');
    t.setAttribute('text-anchor', 'middle');
    t.textContent = lonTickLabels[i];
    axisLabels.appendChild(t);
  });
});

/* colorbar */
const colorbar = document.getElementById('colorbar');
const CB_X = 230, CB_Y = 972, CB_W = 603, CB_H = 23;
function cbX(level){ return CB_X + (level + 11) / 22 * CB_W; }
bandPalette.forEach((color, i) => {
  const box = document.createElementNS(NS, 'rect');
  
  
  box.setAttribute('x', CB_X + i * CB_W / bandPalette.length);
  box.setAttribute('y', CB_Y);
  box.setAttribute('width', CB_W / bandPalette.length);
  box.setAttribute('height', CB_H);
  box.setAttribute('fill', color);
  box.setAttribute('stroke', '#000');
  box.setAttribute('stroke-width', '1.2');
  colorbar.appendChild(box);
});
colorLevels.forEach((level, i) => {
  const t = document.createElementNS(NS, 'text');
  
  
  t.setAttribute('x', cbX(level));
  t.setAttribute('y', 1023);
  t.setAttribute('font-size', '29.5');
  t.setAttribute('text-anchor', 'middle');
  t.textContent = colorLevelLabels[i];
  colorbar.appendChild(t);
});
</script>
</body>
</html>
